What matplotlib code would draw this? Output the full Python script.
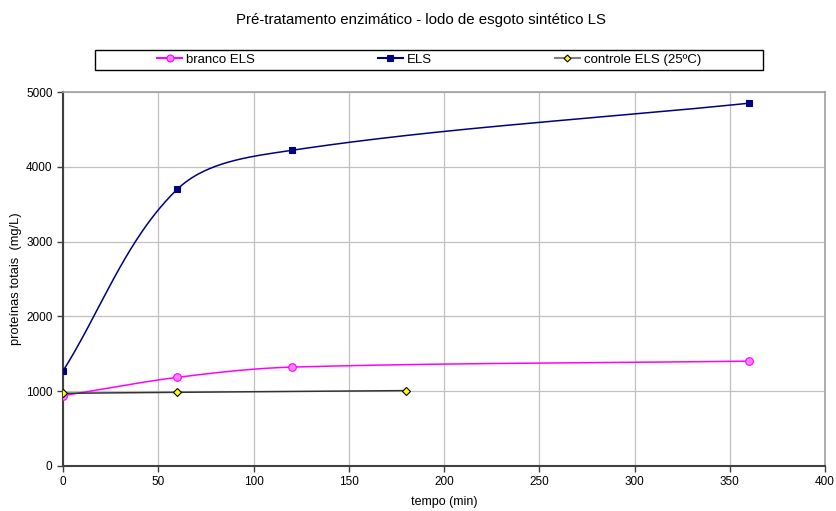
import numpy as np
import matplotlib
matplotlib.use('Agg')
import matplotlib.pyplot as plt
from matplotlib.patches import Rectangle

plt.rcParams['font.family'] = ['Liberation Sans', 'DejaVu Sans']

# data
tempo_branco = [0, 60, 120, 360]
branco_els = [940, 1185, 1322, 1402]
tempo_els = [0, 60, 120, 360]
els = [1270, 3700, 4220, 4850]
tempo_controle = [0, 60, 180]
controle_els = [972, 985, 1008]

XMAX, YMAX = 400, 5000
W_PX, H_PX = 762, 374  # plot area size in pixels


def smooth(x, y, n=60):
    # smoothed line through the points (cubic Bezier, tangents from neighbours),
    # worked out in pixel space so the shape follows the drawn aspect
    p = np.column_stack([np.array(x) / XMAX * W_PX, np.array(y) / YMAX * H_PX]).astype(float)
    m = len(p)
    d = np.zeros_like(p)
    for i in range(m):
        a = p[max(i - 1, 0)]
        b = p[min(i + 1, m - 1)]
        v = b - a
        d[i] = v / np.hypot(*v)
    out = []
    for i in range(m - 1):
        p1, p2 = p[i], p[i + 1]
        L = np.hypot(*(p2 - p1)) / 3
        c1 = p1 + d[i] * L
        c2 = p2 - d[i + 1] * L
        t = np.linspace(0, 1, n)[:, None]
        seg = ((1 - t) ** 3) * p1 + 3 * ((1 - t) ** 2) * t * c1 + 3 * (1 - t) * t ** 2 * c2 + t ** 3 * p2
        out.append(seg)
    s = np.vstack(out)
    return s[:, 0] / W_PX * XMAX, s[:, 1] / H_PX * YMAX


fig = plt.figure(figsize=(8.37, 5.11), dpi=100)
ax = fig.add_axes([63 / 837, 1 - 466 / 511, W_PX / 837, H_PX / 511])

series = [
    (tempo_branco, branco_els, '#FF00FF', '#FF00FF', 'o', '#FF80FF', '#FF00FF', 5.5, 'branco ELS'),
    (tempo_els, els, '#000080', '#000080', 's', '#000080', '#000080', 5, 'ELS'),
    (tempo_controle, controle_els, '#333333', '#808080', 'D', '#FFFF00', '#000000', 4, 'controle ELS (25ºC)'),
]
for xs, ys, col, lcol, mk, mfc, mec, ms, lab in series:
    sx, sy = smooth(xs, ys)
    ax.plot(sx, sy, color=col, lw=1.1, zorder=3)
    ax.plot(xs, ys, ls='none', marker=mk, ms=ms, mfc=mfc, mec=mec, mew=0.8, zorder=4)
    ax.plot([], [], color=lcol, lw=1.5, marker=mk, ms=ms - 0.5,
            mfc=mfc, mec=mec, mew=0.8, label=lab)

ax.set_xlim(0, XMAX)
ax.set_ylim(0, YMAX)
ax.set_xticks(np.arange(0, 401, 50))
ax.set_yticks(np.arange(0, 5001, 1000))
ax.grid(True, color='#C0C0C0', lw=0.9)
ax.set_axisbelow(True)
for s in ['top', 'right']:
    ax.spines[s].set_color('#A0A0A0')
    ax.spines[s].set_linewidth(1.2)
for s in ['left', 'bottom']:
    ax.spines[s].set_color('#404040')
    ax.spines[s].set_linewidth(1.5)
ax.tick_params(direction='out', length=4, width=1, color='#404040', labelsize=8.5)

ax.set_xlabel('tempo (min)', fontsize=9)
ax.xaxis.set_label_coords(0.5, -30 / H_PX)
ax.set_ylabel('proteínas totais  (mg/L)', fontsize=9.3)
ax.yaxis.set_label_coords(-41 / W_PX, 0.5)
fig.text(421 / 837, 1 - 20 / 511, 'Pré-tratamento enzimático - lodo de esgoto sintético LS',
         ha='center', va='center', fontsize=10.8)

# legend box like the original: wide frame, entries centred inside
fig.patches.append(Rectangle((95 / 837, 1 - 70 / 511), 668 / 837, 20 / 511,
                             transform=fig.transFigure, fill=False,
                             edgecolor='#000000', lw=1.0))
fig.legend(loc='center', ncol=3, fontsize=9.5, bbox_to_anchor=(429 / 837, 1 - 60 / 511),
           frameon=False, handlelength=1.9, handletextpad=0.3, columnspacing=9.3,
           borderaxespad=0, borderpad=0)

fig.savefig('out.png', dpi=100)
